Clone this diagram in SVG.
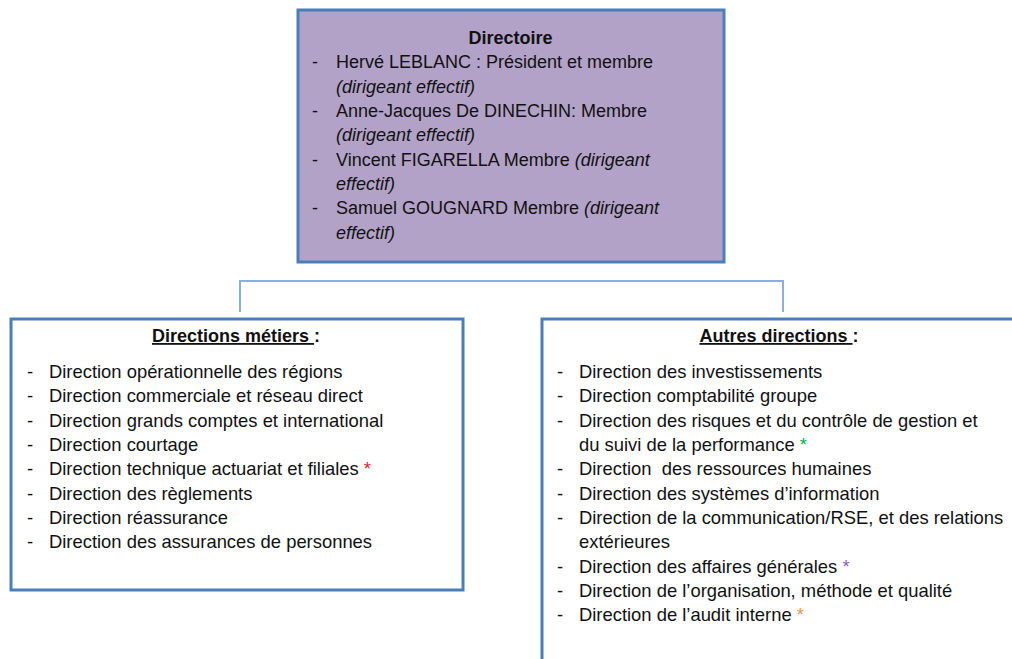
<svg xmlns="http://www.w3.org/2000/svg" width="1012" height="659" viewBox="0 0 1012 659">
<style>
.box{stroke:#4A7EBB;stroke-width:3}
.t{font-family:"Liberation Sans",Arial,sans-serif;font-size:18px;fill:#111;white-space:pre}
.l{font-size:18.4px}
.b{font-weight:bold}
.i{font-style:italic}
.u{text-decoration:underline}
.conn{fill:none;stroke:#8AAEDD;stroke-width:2}
</style>
<rect width="1012" height="659" fill="#fff"/>
<g id="connectors">
<path class="conn" d="M240,312 V281 H783 V312"/>
</g>
<g id="directoire">
<rect class="box" x="298" y="10" width="426" height="252" fill="#B3A2C7"/>
<text class="t b" x="510.5" y="44" text-anchor="middle">Directoire</text>
<text class="t" x="312" y="68">-</text>
<text class="t" x="336" y="68">Hervé LEBLANC : Président et membre</text>
<text class="t i" x="336" y="93">(dirigeant effectif)</text>
<text class="t" x="312" y="117">-</text>
<text class="t" x="336" y="117">Anne-Jacques De DINECHIN: Membre</text>
<text class="t i" x="336" y="141">(dirigeant effectif)</text>
<text class="t" x="312" y="166">-</text>
<text class="t" x="336" y="166">Vincent FIGARELLA Membre <tspan class="i">(dirigeant</tspan></text>
<text class="t i" x="336" y="190">effectif)</text>
<text class="t" x="312" y="214">-</text>
<text class="t" x="336" y="214">Samuel GOUGNARD Membre <tspan class="i">(dirigeant</tspan></text>
<text class="t i" x="336" y="239">effectif)</text>
</g>
<g id="directions-metiers">
<rect class="box" x="11" y="319" width="452" height="271" fill="#fff"/>
<text class="t b" x="236" y="342" text-anchor="middle"><tspan class="u">Directions métiers </tspan>:</text>
<text class="t l" x="27" y="378">-</text><text class="t l" x="49" y="378">Direction opérationnelle des régions</text>
<text class="t l" x="27" y="402">-</text><text class="t l" x="49" y="402">Direction commerciale et réseau direct</text>
<text class="t l" x="27" y="427">-</text><text class="t l" x="49" y="427">Direction grands comptes et international</text>
<text class="t l" x="27" y="451">-</text><text class="t l" x="49" y="451">Direction courtage</text>
<text class="t l" x="27" y="475">-</text><text class="t l" x="49" y="475">Direction technique actuariat et filiales <tspan fill="#E0262B">*</tspan></text>
<text class="t l" x="27" y="500">-</text><text class="t l" x="49" y="500">Direction des règlements</text>
<text class="t l" x="27" y="524">-</text><text class="t l" x="49" y="524">Direction réassurance</text>
<text class="t l" x="27" y="548">-</text><text class="t l" x="49" y="548">Direction des assurances de personnes</text>
</g>
<g id="autres-directions">
<rect class="box" x="542" y="319" width="500" height="400" fill="#fff"/>
<text class="t b" x="779" y="342" text-anchor="middle"><tspan class="u">Autres directions </tspan>:</text>
<text class="t l" x="557" y="378">-</text><text class="t l" x="579" y="378">Direction des investissements</text>
<text class="t l" x="557" y="402">-</text><text class="t l" x="579" y="402">Direction comptabilité groupe</text>
<text class="t l" x="557" y="427">-</text><text class="t l" x="579" y="427">Direction des risques et du contrôle de gestion et</text>
<text class="t l" x="579" y="451">du suivi de la performance <tspan fill="#00B050">*</tspan></text>
<text class="t l" x="557" y="475">-</text><text class="t l" x="579" y="475">Direction  des ressources humaines</text>
<text class="t l" x="557" y="500">-</text><text class="t l" x="579" y="500">Direction des systèmes d’information</text>
<text class="t l" x="557" y="524">-</text><text class="t l" x="579" y="524">Direction de la communication/RSE, et des relations</text>
<text class="t l" x="579" y="548">extérieures</text>
<text class="t l" x="557" y="573">-</text><text class="t l" x="579" y="573">Direction des affaires générales <tspan fill="#8E5BC4">*</tspan></text>
<text class="t l" x="557" y="597">-</text><text class="t l" x="579" y="597">Direction de l’organisation, méthode et qualité</text>
<text class="t l" x="557" y="621">-</text><text class="t l" x="579" y="621">Direction de l’audit interne <tspan fill="#F79646">*</tspan></text>
</g>
</svg>
